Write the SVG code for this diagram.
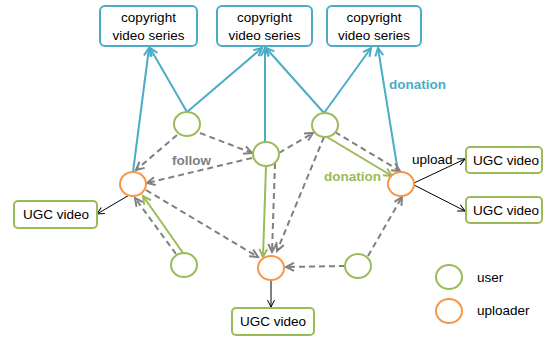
<svg xmlns="http://www.w3.org/2000/svg" width="544" height="337" viewBox="0 0 544 337">
<style>
text{font-family:"Liberation Sans",Arial,sans-serif;fill:#000}
.box{fill:#fff;stroke-width:2}
.cbox{stroke:#4BACC6}
.ubox{stroke:#9BBB59}
.t{font-size:13.5px;text-anchor:middle}
.user{fill:#fff;stroke:#9BBB59;stroke-width:2}
.upl{fill:#fff;stroke:#F79646;stroke-width:2}
.blue{stroke:#4BACC6;stroke-width:2;fill:none;marker-end:url(#mb)}
.gray{stroke:#808080;stroke-width:2;stroke-dasharray:6 4;fill:none;marker-end:url(#mg)}
.green{stroke:#9BBB59;stroke-width:2;fill:none;marker-end:url(#mgr)}
.black{stroke:#000;stroke-width:1;fill:none;marker-end:url(#mk)}
.lbl{font-size:13.5px;font-weight:bold}
</style>
<defs>
<marker id="mb" markerUnits="userSpaceOnUse" markerWidth="12" markerHeight="12" refX="9" refY="5" orient="auto" viewBox="0 0 12 10"><path d="M1,1 L9,5 L1,9" fill="none" stroke="#4BACC6" stroke-width="2"/></marker>
<marker id="mg" markerUnits="userSpaceOnUse" markerWidth="12" markerHeight="12" refX="9" refY="5" orient="auto" viewBox="0 0 12 10"><path d="M1,1 L9,5 L1,9" fill="none" stroke="#808080" stroke-width="2"/></marker>
<marker id="mgr" markerUnits="userSpaceOnUse" markerWidth="12" markerHeight="12" refX="9" refY="5" orient="auto" viewBox="0 0 12 10"><path d="M1,1 L9,5 L1,9" fill="none" stroke="#9BBB59" stroke-width="2"/></marker>
<marker id="mk" markerUnits="userSpaceOnUse" markerWidth="10" markerHeight="10" refX="8" refY="4" orient="auto" viewBox="0 0 10 8"><path d="M1,0.5 L8,4 L1,7.5" fill="none" stroke="#000" stroke-width="1"/></marker>
</defs>

<g id="connectors">
<line class="blue" x1="133" y1="172" x2="149" y2="48"/>
<line class="blue" x1="187" y1="112" x2="150" y2="48"/>
<line class="blue" x1="187" y1="112" x2="262" y2="48"/>
<line class="blue" x1="265" y1="142" x2="265" y2="48"/>
<line class="blue" x1="324" y1="113" x2="266" y2="48"/>
<line class="blue" x1="324" y1="113" x2="371" y2="48"/>
<line class="blue" x1="398" y1="172" x2="378" y2="48"/>

<line class="gray" x1="177" y1="135" x2="136" y2="170"/>
<line class="gray" x1="200" y1="133" x2="252" y2="153"/>
<line class="gray" x1="252" y1="158" x2="147" y2="183"/>
<line class="gray" x1="279" y1="153" x2="313" y2="133"/>
<line class="gray" x1="335" y1="132" x2="400" y2="171"/>
<line class="gray" x1="324" y1="137" x2="277" y2="251"/>
<line class="gray" x1="275" y1="163" x2="272" y2="252"/>
<line class="gray" x1="146" y1="190" x2="258" y2="257"/>
<line class="gray" x1="176" y1="254" x2="135" y2="198"/>
<line class="gray" x1="345" y1="266" x2="286" y2="267"/>
<line class="gray" x1="368" y1="256" x2="402" y2="197"/>

<line class="green" x1="327" y1="137" x2="392" y2="176"/>
<line class="green" x1="266" y1="166" x2="263" y2="257"/>
<line class="green" x1="183" y1="253" x2="143" y2="196"/>

<line class="black" x1="131" y1="194" x2="97" y2="214"/>
<line class="black" x1="271" y1="280" x2="271" y2="307"/>
<line class="black" x1="414" y1="183" x2="465" y2="159"/>
<line class="black" x1="414" y1="185" x2="465" y2="211"/>

<text x="172" y="165" class="lbl" style="fill:#808080">follow</text>
<text x="389" y="89" class="lbl" style="fill:#4BACC6">donation</text>
<text x="324" y="181" class="lbl" style="fill:#9BBB59">donation</text>
<text x="412" y="164" style="font-size:13.5px">upload</text>
</g>

<g id="cv1"><rect class="box cbox" x="100" y="6" width="97" height="40" rx="5"/><text class="t" x="148.5" y="22">copyright</text><text class="t" x="148.5" y="40">video series</text></g>
<g id="cv2"><rect class="box cbox" x="217" y="6" width="95" height="40" rx="5"/><text class="t" x="264.5" y="22">copyright</text><text class="t" x="264.5" y="40">video series</text></g>
<g id="cv3"><rect class="box cbox" x="327" y="6" width="94" height="40" rx="5"/><text class="t" x="374" y="22">copyright</text><text class="t" x="374" y="40">video series</text></g>

<g id="ugc1"><rect class="box ubox" x="14" y="201" width="83" height="27" rx="4"/><text class="t" x="56" y="219">UGC video</text></g>
<g id="ugc2"><rect class="box ubox" x="232" y="308" width="82" height="27" rx="4"/><text class="t" x="273" y="326">UGC video</text></g>
<g id="ugc3"><rect class="box ubox" x="466" y="147" width="76" height="26" rx="4"/><text class="t" x="506" y="165">UGC video</text></g>
<g id="ugc4"><rect class="box ubox" x="466" y="197" width="76" height="26" rx="4"/><text class="t" x="506" y="215">UGC video</text></g>

<g id="u1"><ellipse class="user" cx="187" cy="124" rx="13" ry="12"/></g>
<g id="u2"><ellipse class="user" cx="266" cy="154" rx="13" ry="12"/></g>
<g id="u3"><ellipse class="user" cx="325" cy="125" rx="13" ry="12"/></g>
<g id="u4"><ellipse class="user" cx="184" cy="265" rx="13" ry="12"/></g>
<g id="u5"><ellipse class="user" cx="358" cy="266" rx="13" ry="12"/></g>
<g id="o1"><ellipse class="upl" cx="133" cy="184" rx="13" ry="12"/></g>
<g id="o2"><ellipse class="upl" cx="401" cy="184" rx="13" ry="12"/></g>
<g id="o3"><ellipse class="upl" cx="271" cy="268" rx="13" ry="12"/></g>

<g id="legend">
<ellipse class="user" cx="449" cy="277" rx="13" ry="12"/>
<ellipse class="upl" cx="449" cy="311" rx="13" ry="12"/>
<text x="477" y="282" style="font-size:13.5px">user</text>
<text x="477" y="315" style="font-size:13.5px">uploader</text>
</g>
</svg>
